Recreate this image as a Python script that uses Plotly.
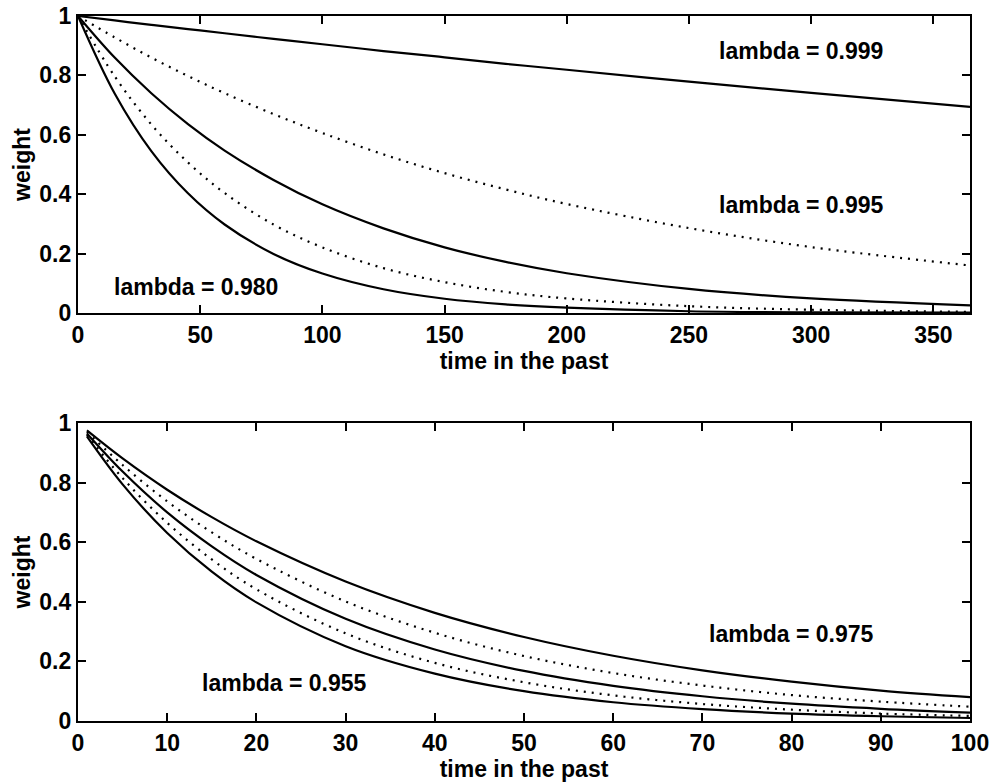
import plotly.graph_objects as go

# ---- Top panel data (time 0..365) ----
t_top = [0, 15, 30, 45, 60, 80, 100, 125, 150, 175, 200, 250, 300, 365]
w_999 = [1.0, 0.985, 0.970, 0.956, 0.942, 0.923, 0.905, 0.882, 0.861, 0.839, 0.819, 0.779, 0.741, 0.694]
w_995 = [1.0, 0.928, 0.860, 0.798, 0.740, 0.670, 0.606, 0.534, 0.471, 0.416, 0.367, 0.286, 0.222, 0.160]
w_990 = [1.0, 0.860, 0.740, 0.636, 0.547, 0.448, 0.366, 0.285, 0.221, 0.172, 0.134, 0.081, 0.049, 0.026]
w_985 = [1.0, 0.797, 0.635, 0.507, 0.404, 0.298, 0.221, 0.151, 0.104, 0.071, 0.049, 0.023, 0.011, 0.004]
w_980 = [1.0, 0.739, 0.545, 0.403, 0.298, 0.199, 0.133, 0.080, 0.048, 0.029, 0.018, 0.006, 0.002, 0.001]

# ---- Bottom panel data (time 1..100) ----
t_bot = [1, 5, 10, 15, 20, 30, 40, 50, 60, 70, 80, 90, 100]
w_975 = [0.975, 0.881, 0.776, 0.684, 0.603, 0.468, 0.363, 0.282, 0.219, 0.170, 0.132, 0.102, 0.080]
w_970 = [0.970, 0.859, 0.737, 0.633, 0.544, 0.401, 0.296, 0.218, 0.161, 0.119, 0.087, 0.065, 0.048]
w_965 = [0.965, 0.837, 0.700, 0.586, 0.490, 0.343, 0.240, 0.168, 0.118, 0.083, 0.058, 0.041, 0.028]
w_960 = [0.960, 0.815, 0.665, 0.542, 0.442, 0.294, 0.195, 0.130, 0.086, 0.057, 0.038, 0.025, 0.017]
w_955 = [0.955, 0.794, 0.631, 0.501, 0.398, 0.251, 0.159, 0.100, 0.063, 0.040, 0.025, 0.016, 0.010]

DOT = "2px,6px"
top_series = [(w_999, "solid"), (w_995, DOT), (w_990, "solid"), (w_985, DOT), (w_980, "solid")]
bot_series = [(w_975, "solid"), (w_970, DOT), (w_965, "solid"), (w_960, DOT), (w_955, "solid")]

FONT = "Liberation Sans"

fig = go.Figure()
for ys, dash in top_series:
    fig.add_trace(go.Scatter(x=t_top, y=ys, mode="lines", xaxis="x", yaxis="y",
                             line=dict(color="black", width=2.2, dash=dash, shape="spline"),
                             showlegend=False))
for ys, dash in bot_series:
    fig.add_trace(go.Scatter(x=t_bot, y=ys, mode="lines", xaxis="x2", yaxis="y2",
                             line=dict(color="black", width=2.2, dash=dash, shape="spline"),
                             showlegend=False))

axis_common = dict(showline=True, linecolor="black", linewidth=2.2, mirror="ticks",
                   ticks="inside", ticklen=8, tickwidth=1.8, tickcolor="black",
                   showgrid=False, zeroline=False, automargin=False,
                   tickfont=dict(family=FONT, size=23, color="black", weight="bold"))
title_font = dict(family=FONT, size=23, color="black", weight="bold")

fig.update_layout(
    width=993, height=783,
    margin=dict(l=78, r=23, t=16, b=62),
    paper_bgcolor="white", plot_bgcolor="white",
    xaxis=dict(domain=[0, 1], anchor="y", range=[0, 365], tickvals=[0, 50, 100, 150, 200, 250, 300, 350],
               title=dict(text="time in the past", font=title_font, standoff=0), **axis_common),
    yaxis=dict(domain=[0.5787, 1], anchor="x", range=[0, 1], tickvals=[0, 0.2, 0.4, 0.6, 0.8, 1],
               ticktext=["0", "0.2", "0.4", "0.6", "0.8", "1"],
               title=dict(text="weight", font=title_font, standoff=2), **axis_common),
    xaxis2=dict(domain=[0, 1], anchor="y2", range=[0, 100], tickvals=list(range(0, 101, 10)),
                title=dict(text="time in the past", font=title_font, standoff=0), **axis_common),
    yaxis2=dict(domain=[0, 0.4227], anchor="x2", range=[0, 1], tickvals=[0, 0.2, 0.4, 0.6, 0.8, 1],
                ticktext=["0", "0.2", "0.4", "0.6", "0.8", "1"],
                title=dict(text="weight", font=title_font, standoff=2), **axis_common),
)

ann_font = dict(family=FONT, size=23, color="black", weight="bold")
labels = [
    ("x", "y", 296, 0.882, "lambda = 0.999"),
    ("x", "y", 296, 0.364, "lambda = 0.995"),
    ("x", "y", 48.3, 0.088, "lambda = 0.980"),
    ("x2", "y2", 79.9, 0.292, "lambda = 0.975"),
    ("x2", "y2", 23.1, 0.128, "lambda = 0.955"),
]
for xr, yr, xv, yv, txt in labels:
    fig.add_annotation(xref=xr, yref=yr, x=xv, y=yv, text=txt, showarrow=False,
                       font=ann_font, xanchor="center", yanchor="middle")

fig.write_html("out.html")
